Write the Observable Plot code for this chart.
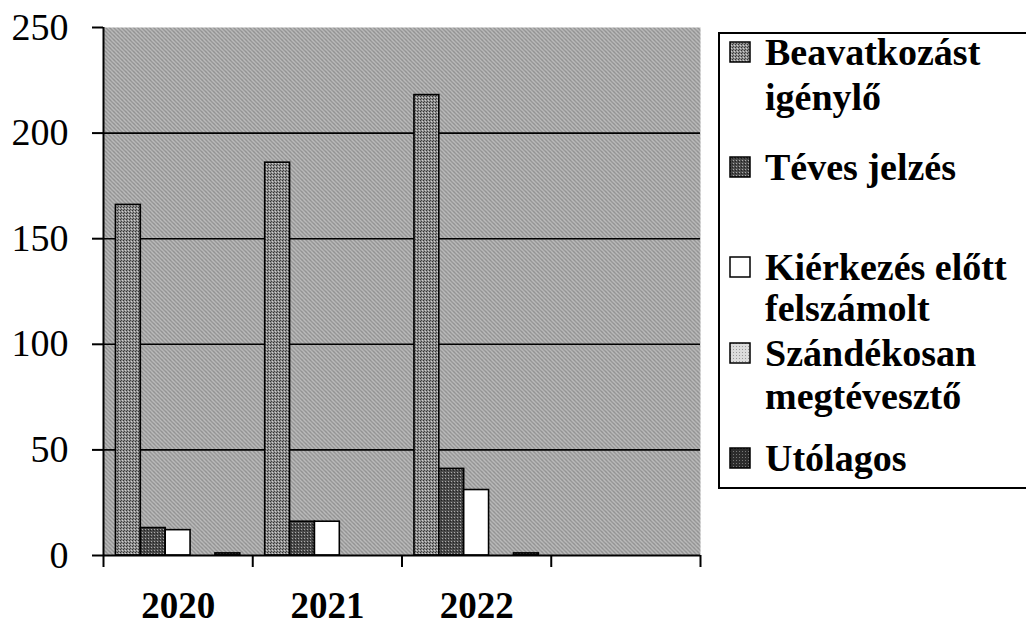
<!DOCTYPE html>
<html><head><meta charset="utf-8">
<script src="https://cdn.jsdelivr.net/npm/d3@7"></script>
<script src="https://cdn.jsdelivr.net/npm/@observablehq/plot@0.6"></script>
<style>
body{margin:0;background:#fff;}
#wrap{position:relative;width:1026px;height:629px;overflow:hidden;font-family:"Liberation Serif","Times New Roman",serif;}
#chart{position:absolute;left:0;top:0;}
#legendBox{position:absolute;left:718px;top:32px;width:330px;height:457px;border:2px solid #000;box-sizing:border-box;}
.li{position:absolute;font-weight:bold;font-size:38px;line-height:38px;white-space:nowrap;color:#000;}
.sw{position:absolute;}
</style>
</head><body>
<div id="wrap"><div id="chart"></div><div id="legendBox"></div></div>
<script>
// ---- data ----
const years = ["2020", "2021", "2022"];
const seriesNames = ["Beavatkozást igénylő", "Téves jelzés", "Kiérkezés előtt felszámolt", "Szándékosan megtévesztő", "Utólagos"];
const beavatkozast = [166, 186, 218];
const teves = [13, 16, 41];
const kierkezes = [12, 16, 31];
const szandekosan = [0, 0, 0];
const utolagos = [1, 0, 1];
const yTicks = [0, 50, 100, 150, 200, 250];

// legend text lines (label split as in the picture)
const legendLines = [["Beavatkozást", "igénylő"], ["Téves jelzés"], ["Kiérkezés előtt", "felszámolt"], ["Szándékosan", "megtévesztő"], ["Utólagos"]];

// ---- styles ----
const fills = ["url(#p0)", "url(#p1)", "url(#p2)", "url(#p3)", "url(#p4)"];
const legendBaselines = [[65, 110], [180], [280, 321], [366, 409], [471]];

const seriesValues = [beavatkozast, teves, kierkezes, szandekosan, utolagos];
const rows = [];
seriesValues.forEach((vals, si) => vals.forEach((v, ci) => rows.push({year: years[ci], ci, si, series: seriesNames[si], value: v})));
const bars = rows.filter(d => d.value > 0);
const nCats = years.length + 1; // Excel left an empty fourth category
const nSer = seriesNames.length;

const chart = Plot.plot({
  width: 718, height: 629,
  marginLeft: 103, marginRight: 18, marginTop: 27, marginBottom: 74,
  style: {fontFamily: "'Liberation Serif', 'Times New Roman', serif", fontSize: "38px", color: "#000", background: "transparent", overflow: "visible"},
  x: {domain: [0, nCats], axis: null, label: null},
  y: {domain: [0, 250], axis: null, label: null},
  color: {type: "identity"},
  marks: [
    Plot.frame({fill: "url(#pbg)", stroke: "none"}),
    Plot.ruleY(yTicks.filter(t => t > 0 && t < 250), {stroke: "#000", strokeWidth: 1.6}),
    Plot.rect(bars, {
      x1: d => d.ci + 1 / (2 * (nSer + 1)) + d.si / (nSer + 1),
      x2: d => d.ci + 1 / (2 * (nSer + 1)) + (d.si + 1) / (nSer + 1),
      y1: 0, y2: "value",
      fill: d => fills[d.si], stroke: "#000", strokeWidth: 1.6
    }),
    Plot.ruleX([0], {stroke: "#000", strokeWidth: 2}),
    Plot.ruleY([0], {stroke: "#000", strokeWidth: 2}),
    Plot.axisY({ticks: yTicks, label: null, tickSize: 11, tickPadding: 24, strokeWidth: 2, fontSize: 38, tickFormat: d => String(d)}),
    Plot.axisX({ticks: d3.range(nCats + 1), label: null, tickSize: 12, strokeWidth: 2, tickFormat: () => ""}),
    Plot.axisX({ticks: years.map((y, i) => i + 0.5), label: null, tickSize: 0, tickPadding: 36, fontSize: 37, fontWeight: "bold", tickFormat: v => years[Math.floor(v)]})
  ]
});

const ns = "http://www.w3.org/2000/svg";
const defs = document.createElementNS(ns, "defs");
defs.innerHTML = `
<pattern id="pbg" width="4" height="4" patternUnits="userSpaceOnUse">
  <rect width="4" height="4" fill="#a8a8a8"/>
  <rect x="0" y="0" width="1" height="1" fill="#f2f2f2"/>
  <rect x="2" y="2" width="1" height="1" fill="#e6e6e6"/>
  <rect x="1" y="3" width="1" height="1" fill="#555"/>
  <rect x="3" y="1" width="1" height="1" fill="#666"/>
</pattern>
<pattern id="p0" width="3" height="3" patternUnits="userSpaceOnUse">
  <rect width="3" height="3" fill="#8e8e8e"/>
  <rect x="0" y="0" width="1" height="1" fill="#333"/>
  <rect x="2" y="1" width="1" height="1" fill="#d0d0d0"/>
  <rect x="1" y="2" width="1" height="1" fill="#444"/>
</pattern>
<pattern id="p1" width="3" height="3" patternUnits="userSpaceOnUse">
  <rect width="3" height="3" fill="#4a4a4a"/>
  <rect x="1" y="1" width="1" height="1" fill="#aaa"/>
  <rect x="0" y="2" width="1" height="1" fill="#222"/>
</pattern>
<pattern id="p2" width="3" height="3" patternUnits="userSpaceOnUse">
  <rect width="3" height="3" fill="#ffffff"/>
</pattern>
<pattern id="p3" width="3" height="3" patternUnits="userSpaceOnUse">
  <rect width="3" height="3" fill="#dcdcdc"/>
  <rect x="1" y="1" width="1" height="1" fill="#999"/>
</pattern>
<pattern id="p4" width="3" height="3" patternUnits="userSpaceOnUse">
  <rect width="3" height="3" fill="#2c2c2c"/>
  <rect x="1" y="1" width="1" height="1" fill="#777"/>
</pattern>`;
chart.insertBefore(defs, chart.firstChild);
document.getElementById("chart").appendChild(chart);

// ---- legend ----
const wrap = document.getElementById("wrap");
legendLines.forEach((lines, si) => {
  lines.forEach((txt, li) => {
    const base = legendBaselines[si][li];
    const div = document.createElement("div");
    div.className = "li";
    div.textContent = txt;
    div.style.left = "765px";
    div.style.top = (base - 32) + "px";
    wrap.appendChild(div);
    if (li === 0) {
      const sw = document.createElementNS(ns, "svg");
      sw.setAttribute("width", 22); sw.setAttribute("height", 22);
      sw.setAttribute("class", "sw");
      sw.style.left = "729px"; sw.style.top = (base - 24) + "px";
      sw.innerHTML = `<rect x="1" y="1" width="20" height="20" fill="${fills[si]}" stroke="#000" stroke-width="1.5"/>`;
      wrap.appendChild(sw);
    }
  });
});
</script>
</body></html>
